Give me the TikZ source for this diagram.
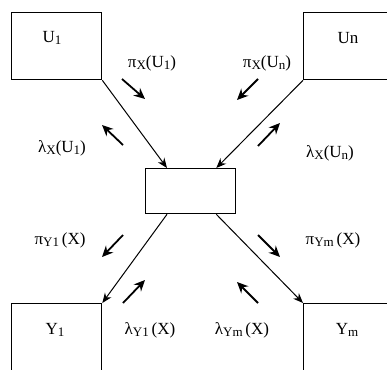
\documentclass[tikz,border=0pt]{standalone}
\usepackage{fontspec}
\setmainfont{Liberation Serif}
\usetikzlibrary{arrows.meta}
\newcommand{\sbs}[1]{\raisebox{-0.15em}{\fontsize{13}{14}\selectfont #1}}
\begin{document}
\begin{tikzpicture}[x=1pt,y=-1pt,
  box/.style={draw,line width=1.3pt,inner sep=0pt,anchor=north west},
  conn/.style={line width=1pt,-{Stealth[length=10pt,width=8pt]}},
  msg/.style={line width=1.8pt,-{Stealth[length=11pt,width=10pt]}},
  lab/.style={font=\fontsize{17}{19}\selectfont,inner sep=1pt}]
\useasboundingbox (0,0) rectangle (387,369);
\clip (0,0) rectangle (387,369);
% boxes
\node[box,minimum width=90pt,minimum height=67pt] (u1) at (11,12) {};
\node[box,minimum width=92pt,minimum height=67pt] (un) at (303,12) {};
\node[box,minimum width=90pt,minimum height=45pt] (x) at (145,168) {};
\node[box,minimum width=90pt,minimum height=75pt] (y1) at (11,303) {};
\node[box,minimum width=92pt,minimum height=75pt] (ym) at (303,303) {};
% box labels
\node[lab] (tu1) at (52,38) {U\sbs{1}};
\node[lab] (tun) at (348,38) {Un};
\node[lab] (ty1) at (55,330) {Y\sbs{1}};
\node[lab] (tym) at (347,330) {Y\sbs{m}};
% main connectors
\draw[conn] (u1.south east) -- ([xshift=22pt]x.north west);
\draw[conn] (un.south west) -- ([xshift=-20pt]x.north east);
\draw[conn] ([xshift=22pt]x.south west) -- (y1.north east);
\draw[conn] ([xshift=-20pt]x.south east) -- (ym.north west);
% message arrows
\coordinate (a1s) at (122,79);  \coordinate (a1e) at (145,99);
\coordinate (b1s) at (123,145); \coordinate (b1e) at (102,125);
\coordinate (a2s) at (258,79);  \coordinate (a2e) at (237,100);
\coordinate (b2s) at (258,146); \coordinate (b2e) at (280,123);
\coordinate (a3s) at (123,235); \coordinate (a3e) at (102,257);
\coordinate (b3s) at (123,303); \coordinate (b3e) at (145,280);
\coordinate (a4s) at (258,235); \coordinate (a4e) at (280,257);
\coordinate (b4s) at (258,303); \coordinate (b4e) at (237,282);
\draw[msg] (a1s) -- (a1e);
\draw[msg] (b1s) -- (b1e);
\draw[msg] (a2s) -- (a2e);
\draw[msg] (b2s) -- (b2e);
\draw[msg] (a3s) -- (a3e);
\draw[msg] (b3s) -- (b3e);
\draw[msg] (a4s) -- (a4e);
\draw[msg] (b4s) -- (b4e);
% message labels
\node[lab] (l1) at (152,63) {π\sbs{X}(U\sbs{1})};
\node[lab] (l2) at (62,148) {λ\sbs{X}(U\sbs{1})};
\node[lab] (l3) at (267,63) {π\sbs{X}(U\sbs{n})};
\node[lab] (l4) at (330,153) {λ\sbs{X}(U\sbs{n})};
\node[lab] (l5) at (60,240) {π\sbs{Y1}\,(X)};
\node[lab] (l6) at (150,330) {λ\sbs{Y1}\,(X)};
\node[lab] (l7) at (333,240) {π\sbs{Ym}\,(X)};
\node[lab] (l8) at (242,330) {λ\sbs{Ym}\,(X)};
\end{tikzpicture}
\end{document}
